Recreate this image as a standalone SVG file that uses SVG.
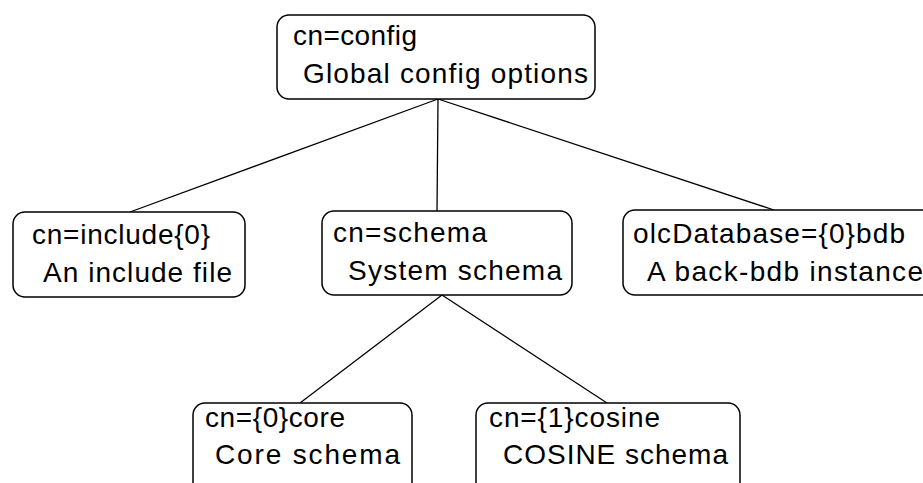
<svg xmlns="http://www.w3.org/2000/svg" width="923" height="483" viewBox="0 0 923 483">
<style>
.box{fill:#fff;stroke:#000;stroke-width:1.5}
.t{font-family:"Liberation Sans",Arial,sans-serif;font-size:28px;fill:#000}
.c{stroke:#000;stroke-width:1.3;fill:none}
</style>
<rect width="923" height="483" fill="#fff"/>
<g id="connectors">
<line class="c" x1="438" y1="99" x2="130" y2="212"/>
<line class="c" x1="438" y1="99" x2="437" y2="211"/>
<line class="c" x1="438" y1="99" x2="774" y2="210"/>
<line class="c" x1="442" y1="295" x2="300" y2="403"/>
<line class="c" x1="442" y1="295" x2="607" y2="403"/>
</g>
<g id="config">
<rect class="box" x="277" y="15" width="318" height="84" rx="12"/>
<text class="t" x="293" y="45" textLength="124" lengthAdjust="spacing">cn=config</text>
<text class="t" x="303" y="83" textLength="285" lengthAdjust="spacing">Global config options</text>
</g>
<g id="include">
<rect class="box" x="13" y="212" width="232" height="85" rx="12"/>
<text class="t" x="32" y="244" textLength="178" lengthAdjust="spacing">cn=include{0}</text>
<text class="t" x="43" y="282" textLength="189" lengthAdjust="spacing">An include file</text>
</g>
<g id="schema">
<rect class="box" x="322" y="211" width="250" height="84" rx="12"/>
<text class="t" x="333" y="242" textLength="154" lengthAdjust="spacing">cn=schema</text>
<text class="t" x="348" y="280" textLength="214" lengthAdjust="spacing">System schema</text>
</g>
<g id="bdb">
<rect class="box" x="623" y="210" width="320" height="85" rx="12"/>
<text class="t" x="633" y="243" textLength="272" lengthAdjust="spacing">olcDatabase={0}bdb</text>
<text class="t" x="647" y="281" textLength="276" lengthAdjust="spacing">A back-bdb instance</text>
</g>
<g id="core">
<rect class="box" x="193" y="403" width="219" height="100" rx="12"/>
<text class="t" x="205" y="427" textLength="140" lengthAdjust="spacing">cn={0}core</text>
<text class="t" x="215" y="464" textLength="185" lengthAdjust="spacing">Core schema</text>
</g>
<g id="cosine">
<rect class="box" x="476" y="403" width="264" height="100" rx="12"/>
<text class="t" x="489" y="427" textLength="171" lengthAdjust="spacing">cn={1}cosine</text>
<text class="t" x="503" y="464" textLength="225" lengthAdjust="spacing">COSINE schema</text>
</g>
</svg>
